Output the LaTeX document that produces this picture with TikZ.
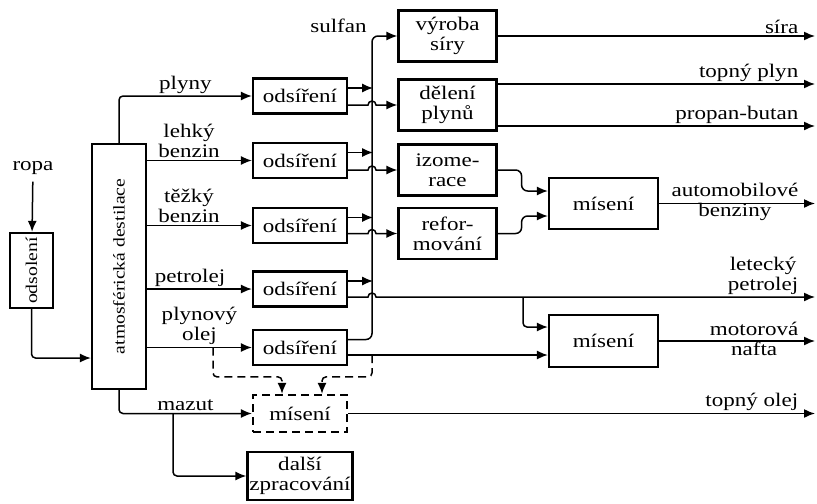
\documentclass[tikz,border=0pt]{standalone}
\usepackage{fontspec}
\setmainfont{Liberation Serif}[FakeStretch=1.2]
\usepackage{tikz}
\usetikzlibrary{positioning, arrows.meta, calc}

\begin{document}
\begin{tikzpicture}[x=0.5pt, y=0.5pt,
    font=\fontsize{9.6}{10}\selectfont,
    blok/.style={draw, line width=1.1pt, align=center, inner sep=1pt},
    odsir/.style={blok, minimum width=47pt, minimum height=17.5pt},
    prav/.style={blok, minimum width=49pt, minimum height=25.5pt},
    misbox/.style={blok, minimum width=54.5pt, minimum height=25.5pt},
    tok/.style={line width=0.75pt, -{Latex[length=5.5pt,width=4.5pt]}},
    carkovane/.style={dash pattern=on 4pt off 2.5pt},
    popis/.style={align=center, inner sep=1pt}]
\useasboundingbox (0,0) rectangle (817,-503);
% Vstup a destilace
\node (ropa) at (33,-168) {ropa};
\node[blok, minimum width=21.5pt, minimum height=37.5pt] (odsol) at (31.5,-270.5)
    {\rotatebox{90}{\fontsize{8.2}{10}\selectfont odsolení}};
\node[blok, minimum width=27pt, minimum height=122.5pt] (dest) at (119,-266.5)
    {\rotatebox{90}{\fontsize{8.2}{10}\selectfont atmosférická destilace}};
% Odsíření a další bloky
\node[odsir] (o1) at (300,-96) {odsíření};
\node[odsir] (o2) at (300,-160.5) {odsíření};
\node[odsir] (o3) at (300,-225.5) {odsíření};
\node[odsir] (o4) at (300,-289) {odsíření};
\node[odsir] (o5) at (300,-347.5) {odsíření};
\node[odsir, carkovane, minimum height=18.5pt] (mix3) at (300,-413.5) {mísení};
\node[blok, minimum width=47pt, minimum height=24pt] (dalsi) at (300,-476) {další\\zpracování};
\node[prav] (vs) at (447.5,-36) {výroba\\síry};
\node[prav] (dp) at (447.5,-105) {dělení\\plynů};
\node[prav] (iz) at (447.5,-170) {izome-\\race};
\node[prav] (rf) at (447.5,-233.5) {refor-\\mování};
\node[misbox] (mix1) at (603.5,-203.5) {mísení};
\node[misbox, minimum height=26pt] (mix2) at (603.5,-341) {mísení};
% Pomocné body
\coordinate (bus) at (372,0);
\coordinate (konec) at (815,0);
\coordinate (mz) at (173,-413.5);
\coordinate (vet) at (523,0);
\coordinate (d1) at (213,0);
\coordinate (p4) at ([yshift=-4pt]o4.east);
\coordinate (m2b) at ([yshift=-7pt]mix2.west);
\coordinate (dpa) at ([yshift=10.5pt]dp.east);
\coordinate (dpb) at ([yshift=-10.5pt]dp.east);
% Vstupy
\draw[tok] (ropa) -- (odsol);
\draw[tok, rounded corners=2pt] (odsol.south) |- (dest.west |- 0,-358);
\draw[tok, rounded corners=2pt] (dest.north) |- node[above, pos=0.75, popis] {plyny} (o1.west);
\draw[tok] (dest.east |- o2.west) -- node[above, pos=0.4, popis] {lehký\\benzin} (o2.west);
\draw[tok] (dest.east |- o3.west) -- node[above, pos=0.4, popis] {těžký\\benzin} (o3.west);
\draw[tok] (dest.east |- o4.west) -- node[above, pos=0.41, popis] {petrolej} (o4.west);
\draw[tok] (dest.east |- o5.west) -- node[above, pos=0.5, popis] {plynový\\olej} (o5.west);
\draw[tok, rounded corners=2pt] (dest.south) |- node[above, pos=0.75, popis] {mazut} (mix3.west);
\draw[tok, rounded corners=2pt] (mz) |- (dalsi.west);
% Sulfan
\foreach \i in {1,...,4}
    \draw[tok] ([yshift=4pt]o\i.east) -- ++(25,0);
\draw[tok, rounded corners=3pt] ([yshift=4pt]o5.east) -| (bus |- vs.west) -- (vs.west);
\node[anchor=south east, inner sep=1pt] (sulfan) at ($(bus |- vs.west)+(-3,1)$) {sulfan};
% Přeskoky přes sběrnici
\foreach \a/\b in {o1/dp, o2/iz, o3/rf}
    \draw[tok] (\a.east |- \b.west) -- ($(bus |- \b.west)+(-4,0)$)
        arc[start angle=180, end angle=0, radius=2pt] -- (\b.west);
\draw[tok] (p4) -- ($(bus |- p4)+(-4,0)$) arc[start angle=180, end angle=0, radius=2pt]
    -- (konec |- p4) node[anchor=south east, xshift=-7pt, popis] {letecký\\petrolej};
\draw[tok, rounded corners=2pt] (vet |- p4) |- ([yshift=7pt]mix2.west);
\draw[tok] (o5.east |- m2b) -- (m2b);
% Čárkované vedení do mísení
\draw[tok, carkovane, rounded corners=2pt] (d1 |- o5.west) |- ($([xshift=-9pt]mix3.north)+(0,17)$)
    -- ([xshift=-9pt]mix3.north);
\draw[tok, carkovane, rounded corners=2pt] (bus |- m2b) |- ($([xshift=11pt]mix3.north)+(0,17)$)
    -- ([xshift=11pt]mix3.north);
% Benziny
\draw[tok, rounded corners=3pt] (iz.east) -- ++(24,0) |- ([yshift=6.25pt]mix1.west);
\draw[tok, rounded corners=3pt] (rf.east) -- ++(24,0) |- ([yshift=-6.25pt]mix1.west);
% Výstupy
\draw[tok] (vs.east) -- (konec |- vs.east) node[anchor=south east, xshift=-7pt, popis] {síra};
\draw[tok] (dpa) -- (konec |- dpa) node[anchor=south east, xshift=-7pt, popis] {topný plyn};
\draw[tok] (dpb) -- (konec |- dpb) node[anchor=south east, xshift=-7pt, popis] {propan-butan};
\draw[tok] (mix1.east) -- (konec |- mix1.east)
    node[anchor=east, xshift=-7pt, yshift=1pt, popis] {automobilové\\benziny};
\draw[tok] (mix2.east) -- (konec |- mix2.east)
    node[anchor=east, xshift=-7pt, yshift=1pt, popis] {motorová\\nafta};
\draw[tok] (mix3.east) -- (konec |- mix3.east) node[anchor=south east, xshift=-7pt, popis] {topný olej};
\end{tikzpicture}
\end{document}
